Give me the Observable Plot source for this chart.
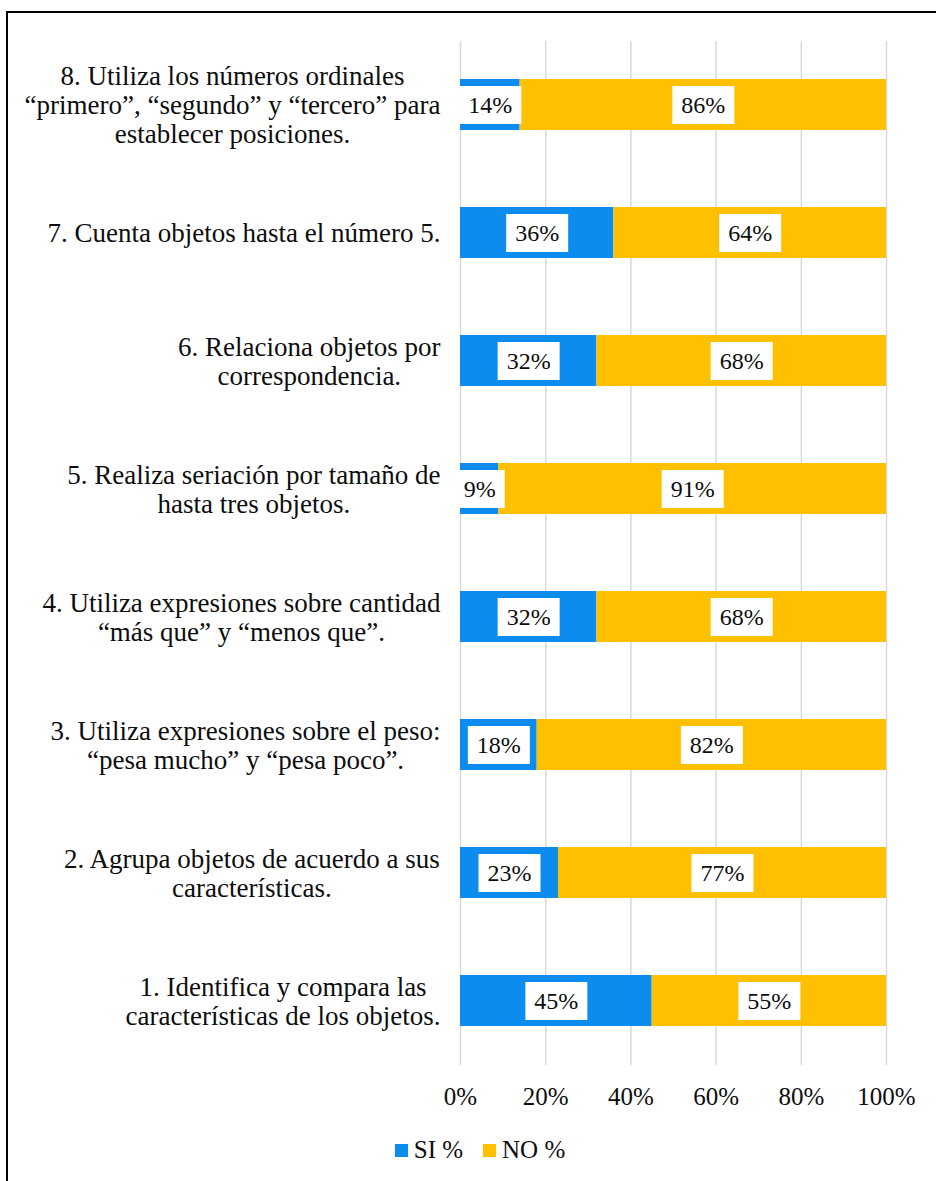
<!DOCTYPE html>
<html>
<head>
<meta charset="utf-8">
<script src="https://cdn.jsdelivr.net/npm/d3@7"></script>
<script src="https://cdn.jsdelivr.net/npm/@observablehq/plot@0.6"></script>
<style>
  html, body { margin: 0; padding: 0; background: #fff; width: 936px; height: 1181px; overflow: hidden; }
  body { position: relative; font-family: "Liberation Serif", "Times New Roman", serif; }
  #frame { position: absolute; left: 6px; top: 11px; width: 1000px; height: 1300px; border-left: 2.5px solid #000; border-top: 2.5px solid #000; box-sizing: border-box; }
  #chart { position: absolute; left: 0; top: 0; }
  #legend { position: absolute; top: 1136px; left: 0; width: 960px; display: flex; justify-content: center; gap: 20px; font-size: 25px; color: #0d0d0d; }
  .item { display: flex; align-items: center; gap: 6px; }
  .sw { width: 13px; height: 13px; display: inline-block; }
</style>
</head>
<body>
<div id="frame"></div>
<div id="chart"></div>
<div id="legend"></div>
<script>
const categories = [
  "8. Utiliza los números ordinales\n“primero”, “segundo” y “tercero” para\nestablecer posiciones.",
  "7. Cuenta objetos hasta el número 5.",
  "6. Relaciona objetos por\ncorrespondencia.",
  "5. Realiza seriación por tamaño de\nhasta tres objetos.",
  "4. Utiliza expresiones sobre cantidad\n“más que” y “menos que”.",
  "3. Utiliza expresiones sobre el peso:\n“pesa mucho” y “pesa poco”.",
  "2. Agrupa objetos de acuerdo a sus\ncaracterísticas.",
  "1. Identifica y compara las\ncaracterísticas de los objetos."
];
const siValues = [14, 36, 32, 9, 32, 18, 23, 45];
const noValues = [86, 64, 68, 91, 68, 82, 77, 55];
const seriesNames = ["SI %", "NO %"];
const seriesColors = ["#0B8CEE", "#FFC000"];
const xTicks = [0, 20, 40, 60, 80, 100];

const FONT = '"Liberation Serif", "Times New Roman", serif';
const rows = [];
categories.forEach((c, i) => {
  rows.push({cat: c, series: seriesNames[0], value: siValues[i]});
  rows.push({cat: c, series: seriesNames[1], value: noValues[i]});
});

const cv = document.createElement("canvas").getContext("2d");
const catSize = 27;
const valSize = 24;
cv.font = `${catSize}px "Liberation Serif"`;
const widths = categories.map(c => Math.max(...c.split("\n").map(l => cv.measureText(l).width)));
const gap = 20;

// draws white boxes behind the value labels, sized from the measured label text
function boxed(index, scales, values, dimensions, context, next) {
  const g = next(index, scales, values, dimensions, context);
  const m = document.createElement("canvas").getContext("2d");
  m.font = `${valSize}px "Liberation Serif"`;
  const px = 9, h = 38;
  const boxes = d3.create("svg:g");
  for (const i of index) {
    const w = m.measureText(values.text ? values.text[i] : "").width + 2 * px;
    boxes.append("rect")
      .attr("x", values.x[i] - w / 2)
      .attr("y", values.y[i] - h / 2)
      .attr("width", w)
      .attr("height", h)
      .attr("fill", "#fff");
  }
  g.insertBefore(boxes.node(), g.firstChild);
  return g;
}

const W = 936, H = 1125;
const plot = Plot.plot({
  width: W,
  height: H,
  marginLeft: 460,
  marginRight: 50,
  marginTop: 41,
  marginBottom: H - 1065,
  style: {fontFamily: FONT, fontSize: "25px", color: "#0d0d0d", background: "transparent"},
  x: {domain: [0, 100], ticks: xTicks, tickFormat: d => d + "%", tickSize: 0, tickPadding: 22, label: null},
  y: {domain: categories, paddingInner: 0.6, paddingOuter: 0.3, axis: null},
  color: {domain: seriesNames, range: seriesColors},
  marks: [
    Plot.gridX(xTicks, {stroke: "#d9d9d9", strokeOpacity: 1, strokeWidth: 1.5}),
    Plot.barX(rows, Plot.stackX({x: "value", y: "cat", fill: "series", order: seriesNames})),
    Plot.text(rows, Plot.stackX({
      x: "value", y: "cat", z: "series", order: seriesNames,
      text: d => d.value + "%", fill: "#0d0d0d", fontSize: valSize, render: boxed
    })),
    ...categories.map((c, i) => Plot.text([c], {
      y: d => d, text: d => d, frameAnchor: "left", textAnchor: "middle", lineAnchor: "middle",
      lineHeight: 1.07, dx: -(gap + widths[i] / 2), fontSize: catSize, fill: "#0d0d0d"
    }))
  ]
});
document.getElementById("chart").appendChild(plot);

const lg = document.getElementById("legend");
seriesNames.forEach((s, i) => {
  const it = document.createElement("div");
  it.className = "item";
  it.innerHTML = `<span class="sw" style="background:${seriesColors[i]}"></span><span>${s}</span>`;
  lg.appendChild(it);
});
</script>
</body>
</html>
